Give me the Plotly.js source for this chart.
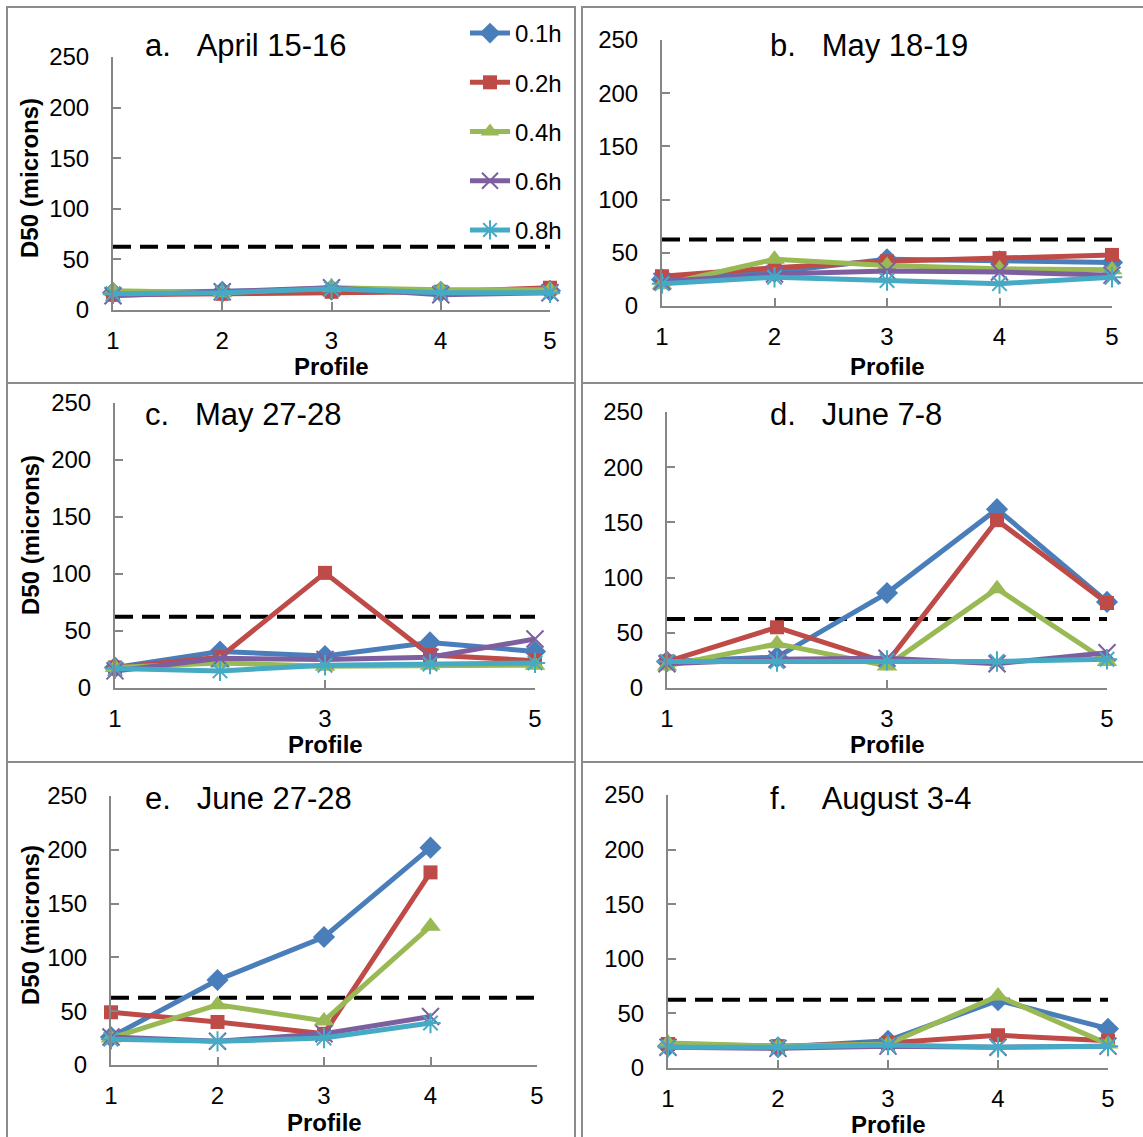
<!DOCTYPE html>
<html>
<head>
<meta charset="utf-8">
<script src="https://cdn.plot.ly/plotly-3.0.1.min.js"></script>
<style>html,body{margin:0;padding:0;background:#fff;}#chart{width:1143px;height:1137px;}</style>
</head>
<body>
<div id="chart"></div>
<script>
// ---------- data ----------
const profiles = [1, 2, 3, 4, 5];
const depthLabels = ['0.1h', '0.2h', '0.4h', '0.6h', '0.8h'];
const threshold = 62.5; // sand/silt boundary (microns)

// each array: one row per depth (0.1h, 0.2h, 0.4h, 0.6h, 0.8h), values per profile 1..5
const aprilD50 = [
  [17, 18, 20, 18, 19],
  [15, 16, 18, 18, 22],
  [19, 17, 22, 20, 20],
  [14, 18, 22, 15, 17],
  [16, 17, 21, 17, 17]
];
const may18D50 = [
  [25, 32, 44, 42, 41],
  [28, 36, 42, 45, 48],
  [20, 44, 38, 35, 34],
  [23, 30, 33, 32, 29],
  [21, 27, 24, 21, 27]
];
const may27D50 = [
  [18, 32, 28, 40, 32],
  [18, 27, 101, 29, 24],
  [18, 22, 19, 20, 20],
  [15, 26, 25, 27, 43],
  [17, 15, 20, 21, 22]
];
const june7D50 = [
  [24, 28, 86, 162, 78],
  [24, 55, 23, 152, 77],
  [20, 40, 20, 90, 24],
  [22, 26, 27, 22, 32],
  [24, 24, 25, 24, 26]
];
const june27D50 = [
  [26, 79, 119, 202, null],
  [49, 40, 29, 179, null],
  [25, 56, 41, 129, null],
  [26, 22, 29, 45, null],
  [24, 22, 25, 39, null]
];
const augD50 = [
  [20, 19, 25, 62, 36],
  [22, 20, 23, 30, 25],
  [23, 20, 22, 66, 22],
  [19, 18, 20, 19, 20],
  [19, 19, 21, 19, 20]
];
const panelTitles = ['a.\u00a0\u00a0\u00a0April 15-16', 'b.\u00a0\u00a0\u00a0May 18-19', 'c.\u00a0\u00a0\u00a0May 27-28',
                     'd.\u00a0\u00a0\u00a0June 7-8', 'e.\u00a0\u00a0\u00a0June 27-28', 'f.\u00a0\u00a0\u00a0\u00a0August 3-4'];
const panelData = [aprilD50, may18D50, may27D50, june7D50, june27D50, augD50];

// ---------- styling / layout ----------
const W = 1143, H = 1137;
const fx = x => x / W;
const fy = y => 1 - y / H;
const FONT = 'Liberation Sans, Arial, sans-serif';
const AXC = '#868686';

const seriesStyle = [
  {color: '#4A7EBB', symbol: 'diamond', size: 17, lw: 0},
  {color: '#BE4B48', symbol: 'square', size: 14, lw: 0},
  {color: '#98B954', symbol: 'triangle-up', size: 18, lw: 0},
  {color: '#7D5FA0', symbol: 'x-thin-open', size: 17, lw: 2},
  {color: '#46AAC5', symbol: 'asterisk-open', size: 17, lw: 2}
];

// pixel geometry of each panel: axis x start/end, y zero / y top
const geo = [
  {x0: 113, x1: 550, y0: 310, y1: 57,  dt: 1, yl: true,  tx: 143, ty: 45,  prx: 331, pry: 366, dly: 178},
  {x0: 662, x1: 1112, y0: 306, y1: 40, dt: 1, yl: false, tx: 768, ty: 45,  prx: 887, pry: 366},
  {x0: 115, x1: 535, y0: 688, y1: 403, dt: 2, yl: true,  tx: 143, ty: 414, prx: 325, pry: 744, dly: 535},
  {x0: 667, x1: 1107, y0: 688, y1: 412, dt: 2, yl: false, tx: 768, ty: 414, prx: 887, pry: 744},
  {x0: 111, x1: 537, y0: 1065, y1: 796, dt: 1, yl: true, tx: 143, ty: 798, prx: 324, pry: 1122, dly: 925},
  {x0: 668, x1: 1108, y0: 1068, y1: 795, dt: 1, yl: false, tx: 768, ty: 798, prx: 888, pry: 1124}
];
const borders = [
  [7, 7, 575, 383], [582, 7, 1150, 383],
  [7, 383, 575, 762], [582, 383, 1150, 762],
  [7, 762, 575, 1150], [582, 762, 1150, 1150]
];

const traces = [];
const layout = {
  width: W, height: H,
  margin: {l: 0, r: 0, t: 0, b: 0},
  paper_bgcolor: '#ffffff', plot_bgcolor: 'rgba(0,0,0,0)',
  font: {family: FONT, color: '#000', size: 24},
  showlegend: true,
  legend: {
    x: fx(465), y: fy(11), xanchor: 'left', yanchor: 'top',
    bgcolor: 'rgba(0,0,0,0)', borderwidth: 0,
    font: {family: FONT, size: 24, color: '#000'},
    tracegroupgap: 15, itemwidth: 40
  },
  shapes: [], annotations: []
};

panelData.forEach((rows, p) => {
  const g = geo[p];
  const sfx = p === 0 ? '' : String(p + 1);
  const xa = 'x' + sfx, ya = 'y' + sfx;
  layout['xaxis' + sfx] = {
    domain: [fx(g.x0), fx(g.x1)], range: [1, 5], anchor: ya,
    tick0: 1, dtick: g.dt, showgrid: false, zeroline: false,
    showline: true, linecolor: AXC, linewidth: 2,
    ticks: 'inside', ticklen: 8, tickwidth: 2, tickcolor: AXC,
    tickfont: {family: FONT, size: 24, color: '#000'},
    ticklabelstandoff: 8, fixedrange: true
  };
  layout['yaxis' + sfx] = {
    domain: [fy(g.y0), fy(g.y1)], range: [0, 250], anchor: xa,
    tick0: 0, dtick: 50, showgrid: false, zeroline: false,
    showline: true, linecolor: AXC, linewidth: 2,
    ticks: 'inside', ticklen: 8, tickwidth: 2, tickcolor: AXC,
    tickfont: {family: FONT, size: 24, color: '#000'},
    ticklabelstandoff: 17, fixedrange: true
  };
  // threshold dashed line
  traces.push({
    x: [profiles[0], profiles[profiles.length - 1]], y: [threshold, threshold],
    xaxis: xa, yaxis: ya, mode: 'lines', showlegend: false, hoverinfo: 'skip',
    line: {color: '#000', width: 4, dash: '18px,9px'}
  });
  rows.forEach((vals, s) => {
    const st = seriesStyle[s];
    traces.push({
      x: profiles, y: vals, xaxis: xa, yaxis: ya,
      name: depthLabels[s], legendgroup: depthLabels[s],
      showlegend: p === 0, mode: 'lines+markers', cliponaxis: false,
      connectgaps: false,
      line: {color: st.color, width: 5},
      marker: {symbol: st.symbol, size: st.size, color: st.color,
               line: {color: st.color, width: st.lw}}
    });
  });
  // panel title
  layout.annotations.push({
    xref: 'paper', yref: 'paper', x: fx(g.tx), y: fy(g.ty), xanchor: 'left', yanchor: 'middle',
    text: panelTitles[p], showarrow: false, font: {family: FONT, size: 31, color: '#000'}
  });
  // x-axis title
  layout.annotations.push({
    xref: 'paper', yref: 'paper', x: fx(g.prx), y: fy(g.pry), xanchor: 'center', yanchor: 'middle',
    text: '<b>Profile</b>', showarrow: false, font: {family: FONT, size: 24, color: '#000'}
  });
  if (g.yl) {
    layout.annotations.push({
      xref: 'paper', yref: 'paper', x: fx(30), y: fy(g.dly), xanchor: 'center', yanchor: 'middle',
      text: '<b>D50 (microns)</b>', textangle: -90, showarrow: false,
      font: {family: FONT, size: 24, color: '#000'}
    });
  }
});

borders.forEach(b => {
  layout.shapes.push({
    type: 'rect', xref: 'paper', yref: 'paper',
    x0: fx(b[0]), x1: fx(b[2]), y0: fy(b[1]), y1: fy(b[3]),
    line: {color: '#8c8c8c', width: 2}, fillcolor: 'rgba(0,0,0,0)', layer: 'below'
  });
});

Plotly.newPlot('chart', traces, layout, {displayModeBar: false, staticPlot: true});
</script>
</body>
</html>
